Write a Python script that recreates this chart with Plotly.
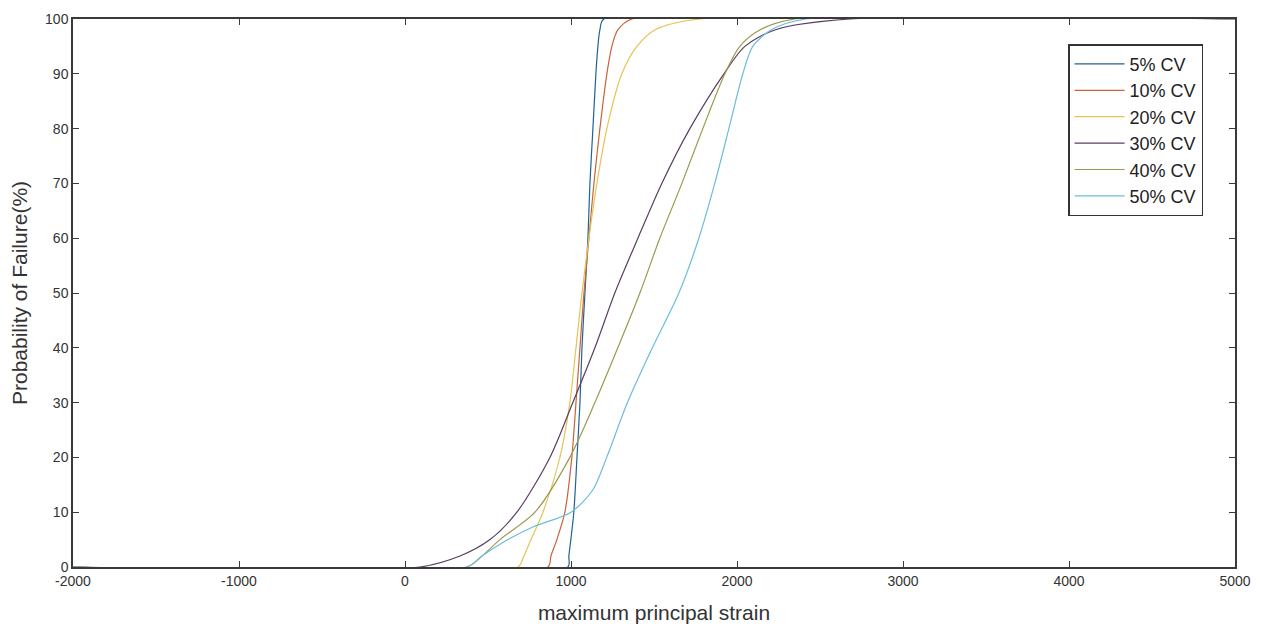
import plotly.graph_objects as go

names = ["5% CV", "10% CV", "20% CV", "30% CV", "40% CV", "50% CV"]
colors = ["#1f6396", "#c8633a", "#e3c455", "#5b3d63", "#9b9a4c", "#6cbcdc"]

# probability of failure levels (%) shared by most curves
p_levels = [0, 0, 2, 5, 10, 20, 30, 40, 50, 60, 70, 80, 90, 95, 98, 100, 100]

# strain values at those levels
cv5_x  = [-2000, 981, 987, 999, 1017, 1036, 1054, 1066, 1084, 1102, 1114, 1132, 1150, 1162, 1174, 1198, 5000]
cv10_x = [-2000, 861, 879, 915, 963, 1005, 1030, 1054, 1078, 1108, 1138, 1174, 1216, 1246, 1282, 1367, 5000]
cv20_x = [-2000, 680, 716, 759, 831, 933, 993, 1030, 1066, 1108, 1156, 1216, 1306, 1397, 1505, 1776, 5000]
cv30_x = [-2000, 90, 331, 512, 674, 873, 1011, 1144, 1264, 1403, 1547, 1716, 1921, 2047, 2228, 2679, 5000]
cv40_x = [-2000, 373, 464, 572, 783, 993, 1144, 1282, 1415, 1535, 1668, 1794, 1927, 2017, 2137, 2348, 5000]
# 50% CV has an extra bend near 7-14 %
cv50_x = [-2000, 373, 464, 620, 770, 1000, 1130, 1215, 1340, 1490, 1650, 1770, 1866, 1951, 2035, 2095, 2204, 2414, 5000]
cv50_y = [0, 0, 2, 5, 7.3, 10, 14, 20, 30, 40, 50, 60, 70, 80, 90, 95, 98, 100, 100]

xs = [cv5_x, cv10_x, cv20_x, cv30_x, cv40_x, cv50_x]
ys = [p_levels, p_levels, p_levels, p_levels, p_levels, cv50_y]

x_ticks = [-2000, -1000, 0, 1000, 2000, 3000, 4000, 5000]
y_ticks = [0, 10, 20, 30, 40, 50, 60, 70, 80, 90, 100]

fig = go.Figure()
for n, c, x, y in zip(names, colors, xs, ys):
    fig.add_trace(go.Scatter(x=x, y=y, name=n, mode="lines",
                             line=dict(color=c, width=1.2, shape="spline", smoothing=0.8)))

axis_common = dict(showline=True, linecolor="#3a3a3a", linewidth=1.5, mirror="ticks",
                   ticks="inside", ticklen=6, tickwidth=1.2, tickcolor="#3a3a3a",
                   showgrid=False, zeroline=False, automargin=False,
                   tickfont=dict(family="Liberation Sans, Arial", size=14, color="#333333"))

fig.update_xaxes(range=[-2000, 5000], tickvals=x_ticks, ticktext=[str(v) for v in x_ticks],
                 title=dict(text="maximum principal strain", standoff=18,
                            font=dict(family="Liberation Sans, Arial", size=21, color="#333333")),
                 **axis_common)
fig.update_yaxes(range=[0, 100], tickvals=y_ticks, ticktext=[str(v) for v in y_ticks],
                 title=dict(text="Probability of Failure(%)", standoff=12,
                            font=dict(family="Liberation Sans, Arial", size=21, color="#333333")),
                 **axis_common)

fig.update_layout(
    width=1263, height=628,
    margin=dict(l=65, r=36, t=11, b=69, autoexpand=False),
    plot_bgcolor="white", paper_bgcolor="white",
    legend=dict(x=0.9725, y=0.954, xanchor="right", yanchor="top",
                bordercolor="#333333", borderwidth=1.5, bgcolor="white",
                font=dict(family="Liberation Sans, Arial", size=18, color="#222222"),
                itemwidth=50, tracegroupgap=0),
    showlegend=True,
)

fig.write_html("out.html")
